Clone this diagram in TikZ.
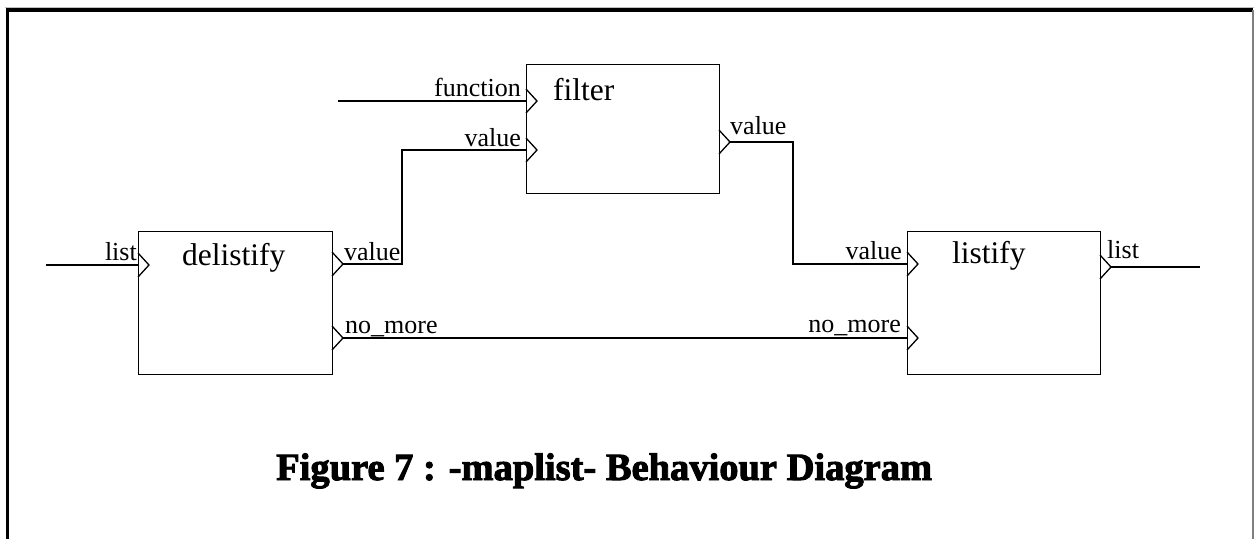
\documentclass[tikz,border=0pt]{standalone}
\usepackage{fontspec}
\setmainfont{Liberation Serif}
\newfontfamily\titlefont[FakeBold=2.5]{Liberation Serif Bold}
\usetikzlibrary{positioning}

\tikzset{
  block/.style={draw, line width=1.3pt, anchor=north west, inner sep=0pt},
  wire/.style={line width=1.3pt},
  lbl/.style={inner sep=0pt, font=\fontsize{26}{30}\selectfont},
  nme/.style={inner sep=0pt, anchor=base west, font=\fontsize{31.5}{36}\selectfont},
}
% open chevron marking a port on a box edge
\newcommand\chev[1]{\draw[wire] (#1) ++(0,-12) -- ++(11,12) -- ++(-11,12);}

\begin{document}
\begin{tikzpicture}[x=1pt,y=-1pt]
\useasboundingbox (0,0) rectangle (1254,539);
% frame
\draw[gray!50, line width=1pt] (5,7) -- (1254,7);
\draw[line width=3.5pt] (7.5,539) -- (7.5,10) -- (1253,10);
\draw[gray, line width=1.5pt] (1253,10) -- (1253,539);

% boxes
\node[block, minimum width=194pt, minimum height=143pt] (delist) at (138,231) {};
\node[block, minimum width=193pt, minimum height=129pt] (filt) at (526,64) {};
\node[block, minimum width=193pt, minimum height=143pt] (listi) at (907,231) {};
\node[nme] (delist-n) at (182,265) {delistify};
\node[nme] (filt-n) at (553,100) {filter};
\node[nme] (listi-n) at (952,263) {listify};

% ports
\coordinate (dl-in) at (138,265);
\coordinate (dl-val) at (332,264);
\coordinate (dl-nm) at (332,338);
\coordinate (fi-fn) at (526,101);
\coordinate (fi-val) at (526,150);
\coordinate (fi-out) at (719,142);
\coordinate (li-val) at (907,264);
\coordinate (li-nm) at (907,338);
\coordinate (li-out) at (1100,267);
\foreach \p in {dl-in,dl-val,dl-nm,fi-fn,fi-val,fi-out,li-val,li-nm,li-out}
  \chev{\p}
\coordinate (dl-val-t) at (343,264);
\coordinate (dl-nm-t) at (343,338);
\coordinate (fi-out-t) at (730,142);
\coordinate (li-out-t) at (1111,267);

% free ends and bends
\coordinate (src-list) at (46,265);
\coordinate (src-fn) at (338,101);
\coordinate (dst-list) at (1200,267);
\coordinate (bend-a) at (402,150);
\coordinate (bend-b) at (793,264);

% connectors
\draw[wire] (src-list) -- (dl-in);
\draw[wire] (src-fn) -- (fi-fn);
\draw[wire] (dl-val-t) -| (bend-a) -- (fi-val);
\draw[wire] (fi-out-t) -| (bend-b) -- (li-val);
\draw[wire] (dl-nm-t) -- (li-nm);
\draw[wire] (li-out-t) -- (dst-list);

% port labels
\node[lbl, anchor=base east] (l-dl-in) at (137,260) {list};
\node[lbl, anchor=base west] (l-dl-val) at (344,260) {value};
\node[lbl, anchor=base west] (l-dl-nm) at (345,333) {no\_more};
\node[lbl, anchor=base east] (l-fi-fn) at (521,96) {function};
\node[lbl, anchor=base east] (l-fi-val) at (521,146) {value};
\node[lbl, anchor=base west] (l-fi-out) at (730,134) {value};
\node[lbl, anchor=base east] (l-li-val) at (902,259) {value};
\node[lbl, anchor=base east] (l-li-nm) at (901,332) {no\_more};
\node[lbl, anchor=base west] (l-li-out) at (1107,258) {list};

% caption
\node[anchor=base west, inner sep=0pt, font=\titlefont\fontsize{38.5}{44}\selectfont] (title) at (276,480) {Figure 7 : -maplist- Behaviour Diagram};
\end{tikzpicture}
\end{document}
